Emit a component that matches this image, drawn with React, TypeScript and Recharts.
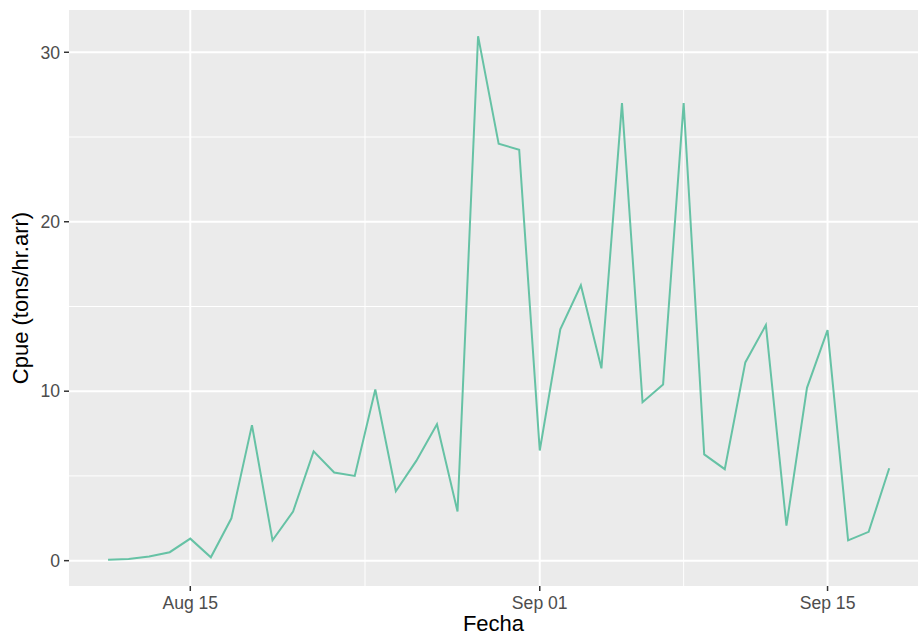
import React from "react";
import { LineChart, Line, XAxis, YAxis, CartesianGrid, Label } from "recharts";

// fecha (mes-día) y cpue
const fechas = [
  "08-11", "08-12", "08-13", "08-14", "08-15", "08-16", "08-17", "08-18", "08-19", "08-20",
  "08-21", "08-22", "08-23", "08-24", "08-25", "08-26", "08-27", "08-28", "08-29", "08-30",
  "08-31", "09-01", "09-02", "09-03", "09-04", "09-05", "09-06", "09-07", "09-08", "09-09",
  "09-10", "09-11", "09-12", "09-13", "09-14", "09-15", "09-16", "09-17", "09-18",
];
const cpue = [
  0.05, 0.1, 0.25, 0.5, 1.3, 0.2, 2.5, 8.0, 1.2, 2.9,
  6.45, 5.2, 5.0, 10.1, 4.1, 5.9, 8.05, 2.9, 30.95, 24.6,
  24.25, 6.5, 13.65, 16.25, 11.35, 27.0, 9.35, 10.4, 27.0, 6.27,
  5.4, 11.7, 13.9, 2.07, 10.2, 13.6, 1.2, 1.7, 5.45,
];
const tickFechas = ["08-15", "09-01", "09-15"];
const tickLabels = ["Aug 15", "Sep 01", "Sep 15"];
const yTicks = [0, 10, 20, 30];
const yMinor = [5, 15, 25];

const dayNum = (s: string) => {
  const [m, d] = s.split("-").map(Number);
  return (Date.UTC(2023, m - 1, d) - Date.UTC(2023, 7, 15)) / 86400000;
};

const rows = fechas.map((f, i) => ({ dia: dayNum(f), cpue: cpue[i] }));
const xTicks = tickFechas.map(dayNum);
const xMinor = xTicks.slice(1).map((t, i) => (t + xTicks[i]) / 2);

const xMin = rows[0].dia;
const xMax = rows[rows.length - 1].dia;
const xDomain = [xMin - 0.05 * (xMax - xMin), 35.4];
const yMinV = Math.min(...cpue);
const yMaxV = Math.max(...cpue);
const yPad = 0.05 * (yMaxV - yMinV);
const yDomain = [yMinV - yPad, yMaxV + yPad];

const tickStyle = { fill: "#4D4D4D", fontSize: 17.6 };

export default function App() {
  return (
    <div
      style={{
        position: "absolute",
        left: 0,
        top: 0,
        width: 918,
        height: 636,
        background: "#fff",
        fontFamily: "'Liberation Sans', Arial, sans-serif",
      }}
    >
      <LineChart width={918} height={636} data={rows} margin={{ top: 10, right: 0, bottom: 0, left: 0 }}>
        <CartesianGrid
          fill="#EBEBEB"
          fillOpacity={1}
          stroke="#FFFFFF"
          strokeWidth={1}
          horizontalValues={yMinor}
          verticalValues={xMinor}
        />
        <CartesianGrid
          stroke="#FFFFFF"
          strokeWidth={2}
          horizontalValues={yTicks}
          verticalValues={xTicks}
        />
        <XAxis
          dataKey="dia"
          type="number"
          domain={xDomain}
          ticks={xTicks}
          tickFormatter={(v: number) => tickLabels[xTicks.indexOf(v)] ?? ""}
          allowDataOverflow
          height={50}
          axisLine={false}
          tickLine={{ stroke: "#333333", strokeWidth: 1.5 }}
          tickSize={5}
          tickMargin={6}
          tick={tickStyle}
          interval={0}
        >
          <Label
            content={({ viewBox }: any) => (
              <text
                x={viewBox.x + viewBox.width / 2}
                y={viewBox.y + 45}
                textAnchor="middle"
                fontSize={22}
                fill="#000"
              >
                Fecha
              </text>
            )}
          />
        </XAxis>
        <YAxis
          type="number"
          domain={yDomain}
          ticks={yTicks}
          allowDataOverflow
          width={69}
          axisLine={false}
          tickLine={{ stroke: "#333333", strokeWidth: 1.5 }}
          tickSize={5}
          tickMargin={4}
          tick={tickStyle}
          interval={0}
        >
          <Label
            content={({ viewBox }: any) => {
              const cx = 28;
              const cy = viewBox.y + viewBox.height / 2;
              return (
                <text
                  x={cx}
                  y={cy}
                  transform={`rotate(-90, ${cx}, ${cy})`}
                  textAnchor="middle"
                  fontSize={22}
                  fill="#000"
                >
                  Cpue (tons/hr.arr)
                </text>
              );
            }}
          />
        </YAxis>
        <Line
          type="linear"
          dataKey="cpue"
          stroke="#66C2A5"
          strokeWidth={2}
          dot={false}
          activeDot={false}
          isAnimationActive={false}
        />
      </LineChart>
    </div>
  );
}
